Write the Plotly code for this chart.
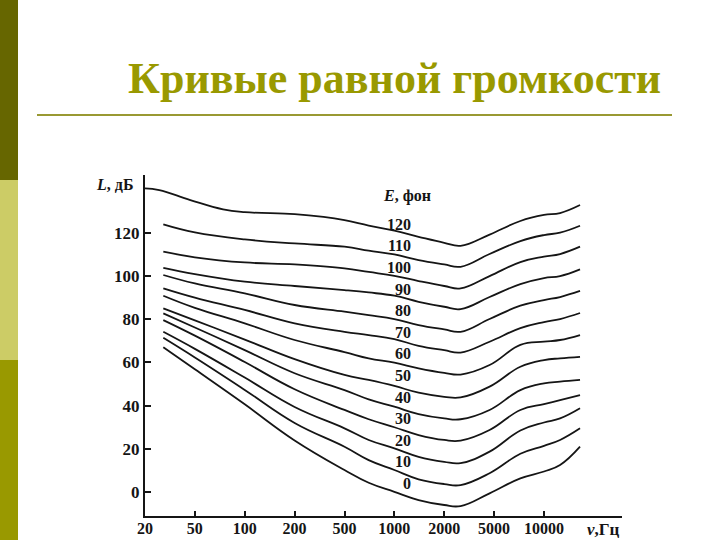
import numpy as np
import plotly.graph_objects as go

# ---------------- data ----------------
TICK_FREQS = [20, 50, 100, 200, 500, 1000, 2000, 5000, 10000, 20000]
TICK_LABELS = ["20", "50", "100", "200", "500", "1000", "2000", "5000", "10000"]
Y_TICKS = [0, 20, 40, 60, 80, 100, 120]

FREQS = [28, 50, 100, 200, 500, 700, 1000, 1400, 2000, 2700, 4600, 7200, 10000, 12500, 16500]
FREQS_120 = [20, 26, 46, 74, 100, 200, 340, 500, 700, 1000, 1400, 2000, 2700, 4600, 7200, 10000,
             12500, 16500]

PHONS = [0, 10, 20, 30, 40, 50, 60, 70, 80, 90, 100, 110, 120]

L_0 = [67.0, 56.8, 40.6, 23.9, 10.2, 4.3, 0.1, -3.7, -6.0, -6.5, -0.6, 6.3, 9.5, 12.5, 21.0]
L_10 = [71.4, 62.3, 47.3, 32.0, 21.0, 14.8, 10.2, 5.9, 3.7, 3.2, 8.7, 17.7, 21.4, 24.1, 29.5]
L_20 = [74.2, 66.3, 53.0, 39.4, 29.5, 24.1, 20.2, 16.3, 14.0, 13.4, 18.7, 28.5, 32.2, 34.1, 38.8]
L_30 = [79.6, 72.4, 60.2, 47.6, 38.0, 33.7, 30.0, 26.4, 24.1, 23.8, 28.7, 38.0, 40.7, 42.6, 44.9]
L_40 = [82.7, 76.2, 65.7, 55.0, 47.2, 42.9, 39.5, 36.1, 34.1, 33.7, 38.0, 47.2, 50.3, 51.1, 51.9]
L_50 = [85.0, 79.5, 70.6, 61.5, 54.2, 51.9, 49.1, 46.0, 44.1, 43.8, 48.8, 58.0, 61.1, 61.9, 62.6]
L_60 = [90.9, 85.3, 78.1, 70.4, 64.8, 61.9, 59.9, 57.3, 55.2, 54.4, 58.8, 68.1, 69.6, 70.4, 72.7]
L_70 = [94.3, 90.0, 84.3, 78.1, 74.2, 72.7, 70.8, 67.7, 65.7, 64.6, 69.6, 75.9, 78.7, 80.1, 82.9]
L_80 = [100.5, 96.6, 92.0, 86.6, 83.5, 81.9, 80.1, 77.3, 75.3, 74.2, 80.1, 86.3, 88.9, 90.3, 93.1]
L_90 = [103.8, 100.9, 97.4, 95.4, 93.5, 92.4, 90.9, 88.1, 85.8, 84.7, 90.3, 96.3, 99.1, 100.0, 103.1]
L_100 = [111.3, 108.7, 106.3, 105.4, 103.6, 101.9, 100.1, 97.7, 95.4, 94.3, 100.0, 106.5, 109.0,
         110.2, 113.6]
L_110 = [123.9, 120.2, 117.0, 115.1, 113.6, 111.8, 110.0, 107.4, 105.4, 104.3, 110.2, 116.2, 119.0,
         120.1, 123.3]
L_120 = [140.6, 139.8, 135.2, 130.9, 129.6, 128.7, 127.4, 125.9, 123.4, 121.0, 118.2, 115.4, 114.0,
         119.2, 125.5, 128.3, 129.2, 132.9]

CURVES = [L_0, L_10, L_20, L_30, L_40, L_50, L_60, L_70, L_80, L_90, L_100, L_110, L_120]

TITLE = "Кривые равной громкости"

# ---------------- helpers ----------------
LOG_TICKS = np.log10(TICK_FREQS)
IDX = np.arange(len(TICK_FREQS))


def fpos(f):
    """Map frequency to the evenly spaced 1-2-5 axis position."""
    return np.interp(np.log10(f), LOG_TICKS, IDX)


W, H = 720, 540
PL, PR, PT, PB = 145, 622, 175, 516   # plot area in pixels


def px(x):
    return (x - PL) / (PR - PL)


def py(y):
    return (PB - y) / (PB - PT)


INK = "#151515"
OLIVE = "#999900"

fig = go.Figure()

for phon, levels in zip(PHONS, CURVES):
    freqs = FREQS_120 if phon == 120 else FREQS
    fig.add_trace(go.Scatter(
        x=fpos(np.array(freqs, dtype=float)),
        y=levels,
        mode="lines",
        line=dict(color=INK, width=1.8, shape="spline", smoothing=1.2),
        showlegend=False,
        hoverinfo="skip",
    ))

annotations = []
label_x = float(fpos(1290.0))
for phon in PHONS:
    annotations.append(dict(
        x=label_x, y=phon + 4.0, xref="x", yref="y",
        text=f"<b>{phon}</b>", showarrow=False,
        xanchor="right", yanchor="middle",
        font=dict(family="Liberation Serif", size=16, color=INK),
    ))

annotations += [
    dict(x=px(407), y=py(196), xref="paper", yref="paper",
         text="<b><i>E</i>, фон</b>", showarrow=False, xanchor="center", yanchor="middle",
         font=dict(family="Liberation Serif", size=16, color=INK)),
    dict(x=px(114), y=py(184), xref="paper", yref="paper",
         text="<b><i>L</i>, дБ</b>", showarrow=False, xanchor="center", yanchor="middle",
         font=dict(family="Liberation Serif", size=16, color=INK)),
    dict(x=px(622), y=py(529), xref="paper", yref="paper",
         text="<b><i>ν</i>,Гц</b>", showarrow=False, xanchor="right", yanchor="middle",
         font=dict(family="Liberation Serif", size=17, color=INK)),
    dict(x=px(394), y=py(78), xref="paper", yref="paper",
         text=f"<b>{TITLE}</b>", showarrow=False, xanchor="center", yanchor="middle",
         font=dict(family="Liberation Serif", size=44, color=OLIVE)),
]

shapes = [
    dict(type="rect", xref="paper", yref="paper", x0=px(0), x1=px(18), y0=py(0), y1=py(180),
         fillcolor="#666600", line=dict(width=0), layer="below"),
    dict(type="rect", xref="paper", yref="paper", x0=px(0), x1=px(18), y0=py(180), y1=py(360),
         fillcolor="#CCCC66", line=dict(width=0), layer="below"),
    dict(type="rect", xref="paper", yref="paper", x0=px(0), x1=px(18), y0=py(360), y1=py(540),
         fillcolor=OLIVE, line=dict(width=0), layer="below"),
    dict(type="line", xref="paper", yref="paper", x0=px(37), x1=px(672), y0=py(115), y1=py(115),
         line=dict(color="#999933", width=2)),
]

x_range_max = (PR - PL) / 49.875
y_bottom = -11.1
y_top = 146.8

fig.update_layout(
    width=W, height=H,
    margin=dict(l=PL, r=W - PR, t=PT, b=H - PB, pad=0, autoexpand=False),
    paper_bgcolor="white", plot_bgcolor="white",
    annotations=annotations, shapes=shapes,
    xaxis=dict(
        range=[0, x_range_max], automargin=False,
        tickmode="array", tickvals=list(range(len(TICK_LABELS))),
        ticktext=[f"<b>{t}</b>" for t in TICK_LABELS],
        showline=True, linecolor=INK, linewidth=2,
        ticks="inside", ticklen=5, tickwidth=1.5, tickcolor=INK,
        ticklabelstandoff=-3,
        showgrid=False, zeroline=False,
        tickfont=dict(family="Liberation Serif", size=16, color=INK),
        fixedrange=True,
    ),
    yaxis=dict(
        range=[y_bottom, y_top], automargin=False,
        tickmode="array", tickvals=Y_TICKS, ticktext=[f"<b>{v}</b>" for v in Y_TICKS],
        showline=True, linecolor=INK, linewidth=2,
        ticks="inside", ticklen=6, tickwidth=1.5, tickcolor=INK,
        showgrid=False, zeroline=False,
        tickfont=dict(family="Liberation Serif", size=17, color=INK),
        fixedrange=True,
    ),
)

fig.write_html("out.html")
